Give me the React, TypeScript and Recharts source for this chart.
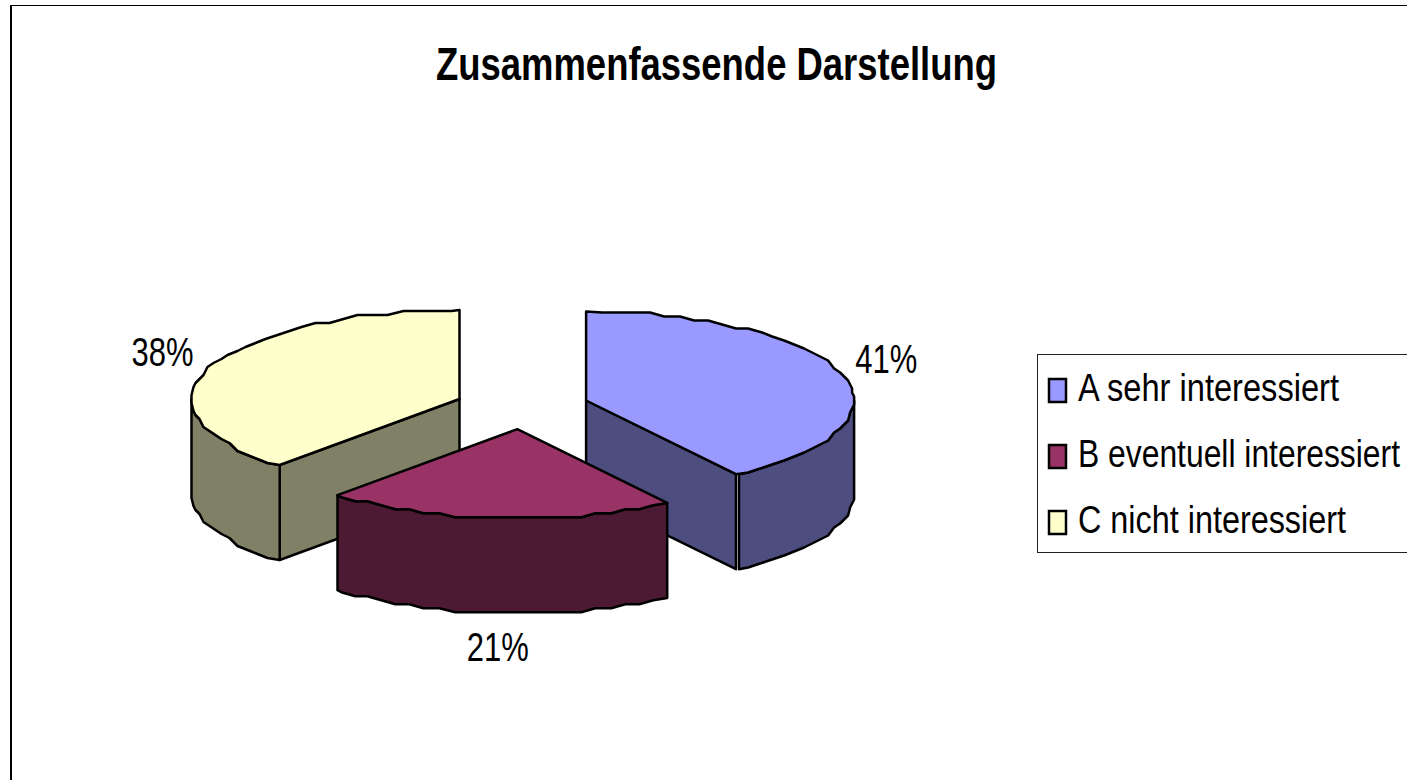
import React from "react";
import { PieChart, Pie, Legend } from "recharts";

const categories = ["A sehr interessiert", "B eventuell interessiert", "C nicht interessiert"];
const shares = [40.55, 21.15, 38.3];
const topColors = ["#9999FF", "#993366", "#FFFFCC"];
const sideColors = ["#4D4D80", "#4D1A33", "#808066"];

// pie gets drawn C, A, B so that the front slice B ends up on top
const drawOrder = [2, 0, 1];
const sliceData = drawOrder.map((i) => ({
    name: categories[i],
    value: shares[i],
    fill: topColors[i],
    side: sideColors[i],
}));
const pieStart = 90 - ((shares[0] + shares[1]) / 100) * 360;

const RX = 268;
const TILT = 0.332;
const DEPTH = 95;
const EXPLODE = 67;
const SNAP_X = 2;
const SNAP_Y = 4;
const SEAM = 3;
const RAD = Math.PI / 180;

const snap = (v: number, step: number) => Math.round(v / step) * step;
const centerOf = (p: any) => ({
    x: p.cx + EXPLODE * Math.cos(p.midAngle * RAD),
    y: p.cy - EXPLODE * TILT * Math.sin(p.midAngle * RAD),
});

// the original rim is a coarse polyline, so sample the ellipse and snap it
const rimPoint = (c: { x: number; y: number }, deg: number, exact: boolean) => {
    const dx = RX * Math.cos(deg * RAD);
    const dy = -RX * TILT * Math.sin(deg * RAD);
    return exact
        ? { x: c.x + dx, y: c.y + dy }
        : { x: c.x + snap(dx, SNAP_X), y: c.y + snap(dy, SNAP_Y) };
};

const rimAngles = (start: number, end: number) => {
    const list: number[] = [start];
    for (let a = start - 3.4; a > end + 1; a -= 3.4) list.push(a);
    list.push(end);
    return list;
};

const toPath = (pts: { x: number; y: number }[]) =>
    pts.map((p, i) => `${i ? "L" : "M"}${p.x.toFixed(1)},${p.y.toFixed(1)}`).join(" ") + " Z";

const Slice3D = (props: any) => {
    const { startAngle, endAngle, fill, payload } = props;
    const c = centerOf(props);
    const angles = rimAngles(startAngle, endAngle);
    const rim = angles.map((a, i) => rimPoint(c, a, i === 0 || i === angles.length - 1));
    const side = payload?.side ?? props.side;
    const line = { stroke: "#000", strokeWidth: 2.5, strokeLinejoin: "round" as const };

    const startEdge = Math.cos(startAngle * RAD) < -0.001;
    const endEdge = Math.cos(endAngle * RAD) > 0.001;

    // outer wall: only the part of the rim below the horizontal axis
    const wallAngles = [...angles];
    for (let k = Math.floor(startAngle / 180); k * 180 > endAngle; k--) {
        if (k * 180 < startAngle) wallAngles.push(k * 180);
    }
    wallAngles.sort((a, b) => b - a);
    const wallTop = wallAngles
        .filter((a) => Math.sin(a * RAD) < 0.001)
        .map((a) => rimPoint(c, a, a === startAngle || a === endAngle || a % 180 === 0));
    if (endEdge && wallTop.length) wallTop[wallTop.length - 1].x += SEAM;
    const wall = [...wallTop, ...[...wallTop].reverse().map((p) => ({ x: p.x, y: p.y + DEPTH }))];

    const edgeFace = (p: { x: number; y: number }) => [
        c,
        p,
        { x: p.x, y: p.y + DEPTH },
        { x: c.x, y: c.y + DEPTH },
    ];

    return (
        <g>
            {startEdge && <path d={toPath(edgeFace(rim[0]))} fill={side} {...line} />}
            {endEdge && <path d={toPath(edgeFace(rim[rim.length - 1]))} fill={side} {...line} />}
            {wall.length > 2 && <path d={toPath(wall)} fill={side} {...line} />}
            <path d={toPath([c, ...rim])} fill={fill} {...line} />
        </g>
    );
};

const PercentLabel = (props: any) => {
    const { midAngle, percent } = props;
    const c = centerOf(props);
    const rim = rimPoint(c, midAngle, true);
    const below = Math.sin(midAngle * RAD) < -0.9;
    const x = below ? rim.x - 0.5 : rim.x - 2 + 48 * Math.cos(midAngle * RAD);
    const y = below ? rim.y + DEPTH + 48 : rim.y - 1.5;
    return (
        <text
            x={x}
            y={y}
            textAnchor="middle"
            fontFamily="'Liberation Sans', Arial, sans-serif"
            fontSize={40}
            textLength={62}
            lengthAdjust="spacingAndGlyphs"
            fill="#000"
        >
            {`${Math.round(percent * 100)}%`}
        </text>
    );
};

const legendWidths = [261, 322, 268];
const LEGEND_SQUEEZE = 0.84;
const LegendBox = () => (
    <svg width={372} height={200} style={{ display: "block" }}>
        <rect x={0.5} y={0.5} width={400} height={198} fill="#fff" stroke="#222" strokeWidth={1} />
        {categories.map((name, i) => (
            <g key={name}>
                <rect
                    x={12}
                    y={25 + i * 66}
                    width={17}
                    height={23}
                    fill={topColors[i]}
                    stroke="#000"
                    strokeWidth={2.5}
                />
                <text
                    transform={`translate(41,${47 + i * 66}) scale(${LEGEND_SQUEEZE},1)`}
                    fontFamily="'Liberation Sans', Arial, sans-serif"
                    fontSize={38}
                    textLength={legendWidths[i] / LEGEND_SQUEEZE}
                    lengthAdjust="spacingAndGlyphs"
                    fill="#000"
                >
                    {name}
                </text>
            </g>
        ))}
    </svg>
);

export default function App() {
    return (
        <div style={{ position: "fixed", left: 0, top: 0, width: 1407, height: 780, overflow: "hidden", background: "#fff" }}>
            <div
                style={{
                    position: "absolute",
                    left: 10,
                    top: 5,
                    width: 1500,
                    height: 900,
                    borderLeft: "2px solid #000",
                    borderTop: "1px solid #000",
                }}
            />
            <PieChart width={1407} height={780} style={{ position: "absolute", left: 0, top: 0 }}>
                <text
                    x={436}
                    y={80}
                    fontFamily="'Liberation Sans', Arial, sans-serif"
                    fontWeight="bold"
                    fontSize={47}
                    textLength={561}
                    lengthAdjust="spacingAndGlyphs"
                    fill="#000"
                >
                    Zusammenfassende Darstellung
                </text>
                <Pie
                    data={sliceData}
                    dataKey="value"
                    nameKey="name"
                    cx={517}
                    cy={402}
                    outerRadius={RX}
                    startAngle={pieStart}
                    endAngle={pieStart - 360}
                    stroke="none"
                    shape={Slice3D}
                    label={PercentLabel}
                    labelLine={false}
                    isAnimationActive={false}
                />
                <Legend
                    content={LegendBox}
                    wrapperStyle={{ position: "absolute", left: 1037, top: 354, width: 372, height: 200, bottom: "auto" }}
                />
            </PieChart>
        </div>
    );
}
